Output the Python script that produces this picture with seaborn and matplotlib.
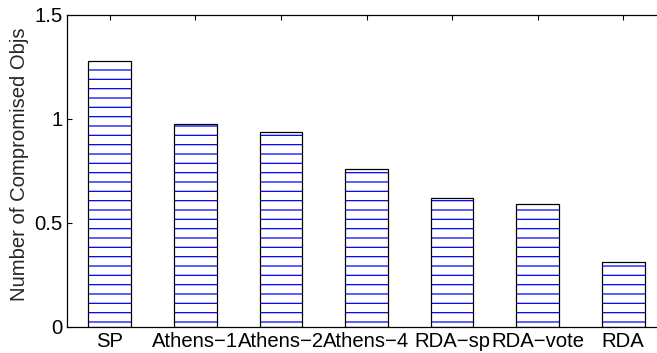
import seaborn as sns
import pandas as pd
import matplotlib.pyplot as plt

# Datos
metodos = ["SP", "Athens\u22121", "Athens\u22122", "Athens\u22124", "RDA\u2212sp", "RDA\u2212vote", "RDA"]
objs = [1.28, 0.976, 0.938, 0.76, 0.62, 0.59, 0.31]

df = pd.DataFrame({"metodo": metodos, "objs": objs})

sns.set_style("white")
plt.rcParams["font.family"] = ["Liberation Sans", "DejaVu Sans"]
plt.rcParams["hatch.linewidth"] = 0.8

DPI = 112
fig = plt.figure(figsize=(657 / DPI, 353 / DPI), dpi=DPI)
ax = fig.add_axes([0.102, 0.0737, 0.9117, 0.884])

# relleno rayado azul
sns.barplot(x="metodo", y="objs", data=df, ax=ax, color="white", width=0.5,
            edgecolor="blue", linewidth=0, hatch="--", errorbar=None)
# borde negro
sns.barplot(x="metodo", y="objs", data=df, ax=ax, fill=False, width=0.5,
            edgecolor="black", linewidth=0.8, errorbar=None)

ax.set_xlim(-0.5, 6.5)
ax.set_ylim(0, 1.5)
ax.set_yticks([0, 0.5, 1, 1.5])
ax.set_yticklabels(["0", "0.5", "1", "1.5"])
ax.set_xlabel("")
ax.set_ylabel("Number of Compromised Objs", fontsize=13)
ax.yaxis.set_label_coords(-0.064, 0.52)
ax.tick_params(direction="in", length=3.5, width=0.7, top=True, right=True,
               bottom=True, left=True, labelsize=13, pad=3, colors="black")
for s in ax.spines.values():
    s.set_visible(True)
    s.set_color("black")
    s.set_linewidth(0.8)

fig.savefig("out.png", dpi=DPI)
